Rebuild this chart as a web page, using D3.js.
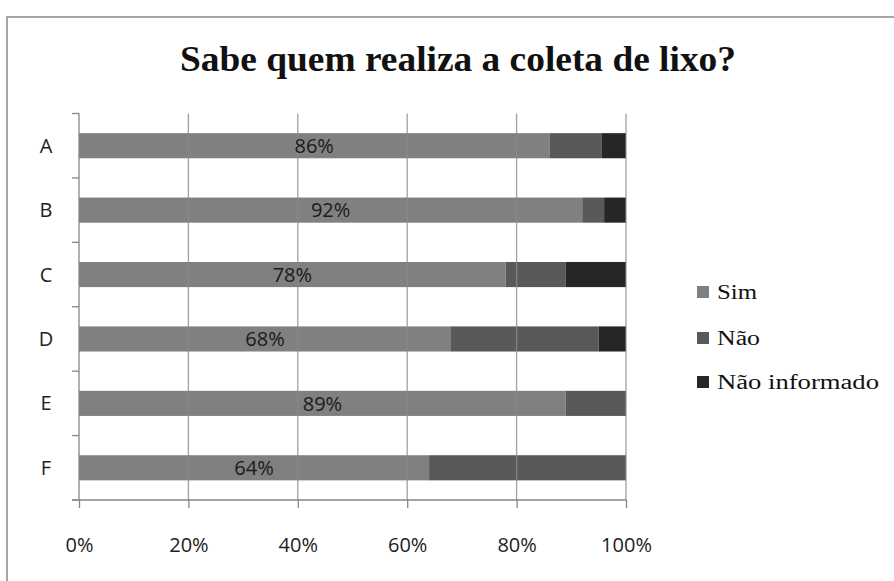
<!DOCTYPE html>
<html>
<head>
<meta charset="utf-8">
<script src="https://cdn.jsdelivr.net/npm/d3@7"></script>
<style>
  html, body { margin: 0; padding: 0; background: #ffffff; }
  svg { display: block; }
</style>
</head>
<body>
<svg id="chart" width="894" height="581"></svg>
<script>
// Survey answers per area, in percent
const categories = ["A", "B", "C", "D", "E", "F"];
const seriesNames = ["Sim", "Não", "Não informado"];
const sim = [86, 92, 78, 68, 89, 64];
const nao = [9.5, 4, 11, 27, 11, 36];
const naoInformado = [4.5, 4, 11, 5, 0, 0];
const tickValues = [0, 20, 40, 60, 80, 100];
const tickLabels = ["0%", "20%", "40%", "60%", "80%", "100%"];
const colors = ["#808080", "#595959", "#262626"];

const rows = categories.map((c, i) => ({
  cat: c,
  "Sim": sim[i],
  "Não": nao[i],
  "Não informado": naoInformado[i]
}));

const svg = d3.select("#chart");
const sansFont = "'Open Sans', 'DejaVu Sans', sans-serif";
const serifFont = "'Liberation Serif', 'DejaVu Serif', serif";

// Outer chart frame
svg.append("rect")
  .attr("x", 7).attr("y", 17)
  .attr("width", 1000).attr("height", 1000)
  .attr("fill", "#ffffff")
  .attr("stroke", "#a6a6a6")
  .attr("stroke-width", 2);

// Title
svg.append("text")
  .attr("x", 458).attr("y", 71)
  .attr("text-anchor", "middle")
  .attr("font-family", serifFont)
  .attr("font-weight", "bold")
  .attr("font-size", 36)
  .attr("fill", "#111111")
  .attr("textLength", 556)
  .attr("lengthAdjust", "spacingAndGlyphs")
  .text("Sabe quem realiza a coleta de lixo?");

const plot = { left: 79, right: 626, top: 113.5, bottom: 500 };

const x = d3.scaleLinear().domain([0, 100]).range([plot.left, plot.right]);
const y = d3.scaleBand().domain(categories)
  .range([plot.top, plot.bottom])
  .paddingInner(0.61).paddingOuter(0.305);

const stack = d3.stack().keys(seriesNames);
const layers = stack(rows);

// Stacked bars
const g = svg.append("g");
g.selectAll("g.layer")
  .data(layers)
  .join("g")
  .attr("class", "layer")
  .attr("fill", (d, i) => colors[i])
  .selectAll("rect")
  .data(d => d)
  .join("rect")
  .attr("x", d => x(d[0]))
  .attr("y", d => y(d.data.cat))
  .attr("width", d => Math.max(0, x(d[1]) - x(d[0])))
  .attr("height", y.bandwidth());

// Vertical gridlines (drawn over the bars)
svg.append("g")
  .selectAll("line")
  .data(tickValues.slice(1))
  .join("line")
  .attr("x1", d => x(d)).attr("x2", d => x(d))
  .attr("y1", plot.top).attr("y2", plot.bottom)
  .attr("stroke", "#8a8a8a")
  .attr("stroke-opacity", 0.8)
  .attr("stroke-width", 1.3);

// Bottom axis
const xAxis = d3.axisBottom(x)
  .tickValues(tickValues)
  .tickFormat((d, i) => tickLabels[i])
  .tickSize(8)
  .tickPadding(30);
const gx = svg.append("g")
  .attr("transform", `translate(0,${plot.bottom})`)
  .call(xAxis);
gx.select(".domain").remove();
gx.selectAll(".tick line").attr("stroke", "#868686").attr("stroke-width", 1.3);
gx.selectAll(".tick text")
  .attr("font-family", sansFont)
  .attr("font-size", 20)
  .attr("fill", "#222222");
gx.append("line")
  .attr("x1", plot.left - 7).attr("x2", plot.right)
  .attr("y1", 0).attr("y2", 0)
  .attr("stroke", "#868686").attr("stroke-width", 1.3);

// Left axis: category boundaries as ticks
const gy = svg.append("g");
gy.append("line")
  .attr("x1", plot.left).attr("x2", plot.left)
  .attr("y1", plot.top).attr("y2", plot.bottom)
  .attr("stroke", "#868686").attr("stroke-width", 1.3);
const bounds = categories.map(c => y(c) - y.step() * y.paddingInner() / 2)
  .concat([plot.bottom]);
gy.selectAll("line.tk")
  .data(bounds)
  .join("line")
  .attr("class", "tk")
  .attr("x1", plot.left - 7).attr("x2", plot.left)
  .attr("y1", d => d).attr("y2", d => d)
  .attr("stroke", "#868686").attr("stroke-width", 1.3);
gy.selectAll("text")
  .data(categories)
  .join("text")
  .attr("x", 46)
  .attr("y", d => y(d) + y.bandwidth() / 2)
  .attr("dy", "0.35em")
  .attr("text-anchor", "middle")
  .attr("font-family", sansFont)
  .attr("font-size", 20)
  .attr("fill", "#222222")
  .text(d => d);

// Value labels on the "Sim" segment
svg.append("g")
  .selectAll("text")
  .data(layers[0])
  .join("text")
  .attr("x", d => (x(d[0]) + x(d[1])) / 2)
  .attr("y", d => y(d.data.cat) + y.bandwidth() / 2)
  .attr("dy", "0.36em")
  .attr("text-anchor", "middle")
  .attr("font-family", sansFont)
  .attr("font-size", 20)
  .attr("fill", "#1a1a1a")
  .text(d => d3.format(".0f")(d.data["Sim"]) + "%");

// Legend
const legendY = [292, 338, 382];
const legendW = [40, 43, 162];
const lg = svg.append("g");
seriesNames.forEach((name, i) => {
  lg.append("rect")
    .attr("x", 697).attr("y", legendY[i] - 6)
    .attr("width", 12).attr("height", 12)
    .attr("fill", colors[i]);
  lg.append("text")
    .attr("x", 717).attr("y", legendY[i])
    .attr("dy", "0.33em")
    .attr("font-family", serifFont)
    .attr("font-size", 20)
    .attr("fill", "#111111")
    .attr("textLength", legendW[i])
    .attr("lengthAdjust", "spacingAndGlyphs")
    .text(name);
});
</script>
</body>
</html>
